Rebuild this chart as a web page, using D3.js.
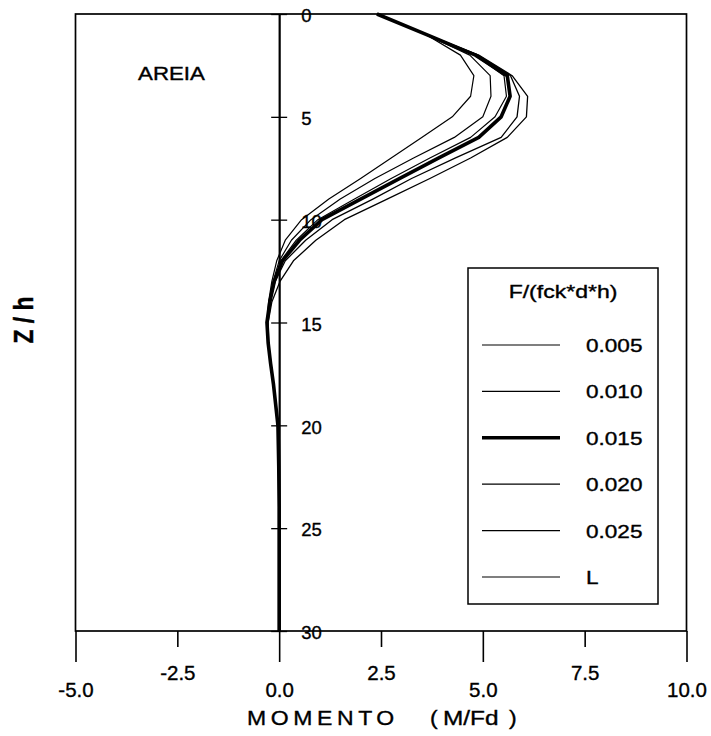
<!DOCTYPE html>
<html>
<head>
<meta charset="utf-8">
<script src="https://cdn.jsdelivr.net/npm/d3@7"></script>
<style>
  html, body { margin: 0; padding: 0; background: #fff; }
  svg { display: block; }
  text { font-family: "Liberation Sans", Arial, Helvetica, sans-serif; fill: #000; stroke: #000; stroke-width: 0.35px; }
</style>
</head>
<body>
<div id="chart"></div>
<script>
// ---------- data ----------
const zValues = [0,1,2,3,4,5,6,7,8,9,10,11,12,13,14,15,16,17,18,20,22,24,26,28,30];

const m005 = [2.4, 3.6, 4.45, 4.78, 4.7, 4.25, 3.5, 2.75, 2.0, 1.22, 0.55, 0.15, -0.06, -0.18, -0.26, -0.3, -0.27, -0.21, -0.14, -0.03, -0.01, 0, 0, 0, 0];
const m010 = [2.4, 3.6, 4.68, 5.18, 5.2, 5.0, 4.3, 3.3, 2.35, 1.5, 0.78, 0.3, 0.0, -0.15, -0.25, -0.3, -0.27, -0.21, -0.14, -0.03, -0.01, 0, 0, 0, 0];
const m015 = [2.4, 3.62, 4.82, 5.6, 5.67, 5.45, 4.9, 3.92, 2.95, 2.0, 1.05, 0.5, 0.08, -0.12, -0.23, -0.3, -0.27, -0.21, -0.14, -0.03, -0.01, 0, 0, 0, 0];
const m020 = [2.4, 3.62, 4.88, 5.68, 5.9, 5.84, 5.45, 4.33, 3.25, 2.3, 1.3, 0.65, 0.15, -0.1, -0.22, -0.29, -0.27, -0.21, -0.14, -0.03, -0.01, 0, 0, 0, 0];
const m025 = [2.4, 3.62, 4.9, 5.72, 6.1, 6.07, 5.6, 4.7, 3.7, 2.65, 1.6, 0.9, 0.35, 0.02, -0.18, -0.27, -0.26, -0.2, -0.14, -0.03, -0.01, 0, 0, 0, 0];
const mL   = [2.4, 3.62, 4.8, 5.52, 5.58, 5.3, 4.7, 3.7, 2.75, 1.85, 0.95, 0.42, 0.04, -0.14, -0.24, -0.3, -0.27, -0.21, -0.14, -0.03, -0.01, 0, 0, 0, 0];

const seriesNames = ["0.005", "0.010", "0.015", "0.020", "0.025", "L"];
const seriesValues = [m005, m010, m015, m020, m025, mL];

const xTickValues = [-5, -2.5, 0, 2.5, 5, 7.5, 10];
const xTickLabels = ["-5.0", "-2.5", "0.0", "2.5", "5.0", "7.5", "10.0"];
const yTickValues = [0, 5, 10, 15, 20, 25, 30];
const yTickLabels = ["0", "5", "10", "15", "20", "25", "30"];

const legendTitle = "F/(fck*d*h)";
const panelLabel = "AREIA";
const yTitle = "Z / h";

// ---------- layout ----------
const W = 711, H = 736;
const svg = d3.select("#chart").append("svg").attr("width", W).attr("height", H);

const x = d3.scaleLinear().domain([-5, 10]).range([75.5, 686.5]);
const y = d3.scaleLinear().domain([0, 30]).range([14, 631]);

function addText(parent, px, py, str, size, sx, anchor, weight) {
  return parent.append("text")
    .attr("transform", `translate(${px},${py}) scale(${sx},1)`)
    .attr("text-anchor", anchor || "start")
    .attr("font-size", size)
    .attr("font-weight", weight || "normal")
    .text(str);
}

// ---------- x axis (bottom) ----------
const xAxis = d3.axisBottom(x)
  .tickValues(xTickValues)
  .tickSizeInner(31)
  .tickSizeOuter(0)
  .tickFormat((d, i) => xTickLabels[i]);

const gx = svg.append("g").attr("transform", `translate(0,${y(30)})`).call(xAxis);
gx.select(".domain").remove();
gx.selectAll(".tick line").attr("stroke", "#000").attr("stroke-width", 1.6)
  .attr("y2", (d, i) => (i % 2 === 1 ? 16 : 31));
gx.selectAll(".tick text")
  .attr("font-size", 20.5)
  .attr("font-family", "'Liberation Sans', Arial, sans-serif")
  .attr("fill", "#000")
  .attr("dy", null)
  .attr("y", (d, i) => (i % 2 === 1 ? 49 : 66));

// ---------- y axis (vertical at M = 0) ----------
const yAxis = d3.axisRight(y)
  .tickValues(yTickValues)
  .tickSizeInner(8)
  .tickSizeOuter(0)
  .tickFormat((d, i) => yTickLabels[i]);

const gy = svg.append("g").attr("transform", `translate(${x(0)},0)`).call(yAxis);
gy.select(".domain").attr("stroke", "#000").attr("stroke-width", 2.2);
gy.selectAll(".tick line").attr("stroke", "#000").attr("stroke-width", 1.3)
  .attr("x1", -8).attr("x2", 8);
gy.selectAll(".tick text")
  .attr("font-size", 18.5)
  .attr("font-family", "'Liberation Sans', Arial, sans-serif")
  .attr("fill", "#000")
  .attr("x", 22)
  .attr("dy", "0.42em")
  .attr("text-anchor", "start");

// ---------- frame ----------
svg.append("rect")
  .attr("x", x(-5)).attr("y", y(0))
  .attr("width", x(10) - x(-5)).attr("height", y(30) - y(0))
  .attr("fill", "none").attr("stroke", "#000").attr("stroke-width", 1.7);

// ---------- curves ----------
const widths = [1.2, 1.2, 3.6, 1.3, 1.3, 1.2];
const line = d3.line()
  .x((d) => x(d[0]))
  .y((d) => y(d[1]));

seriesValues.forEach((vals, si) => {
  const pts = vals.map((v, i) => [v, zValues[i]]);
  svg.append("path")
    .datum(pts)
    .attr("fill", "none")
    .attr("stroke", "#000")
    .attr("stroke-width", widths[si])
    .attr("stroke-linejoin", "round")
    .attr("d", line);
});

// ---------- texts ----------
addText(svg, 138, 80, panelLabel, 18, 1.24, "start");

svg.append("text")
  .attr("transform", `translate(33,320) rotate(-90) scale(1,1.18)`)
  .attr("text-anchor", "middle")
  .attr("font-size", 23)
  .attr("font-weight", "bold")
  .text(yTitle);

// x title
addText(svg, 247, 725, "MOMENTO", 20, 1.15, "start").attr("letter-spacing", 4);
addText(svg, 430, 725, "(", 20, 1.15, "start");
addText(svg, 443, 725, "M/Fd", 20, 1.22, "start");
addText(svg, 509, 725, ")", 20, 1.15, "start");

// ---------- legend ----------
const lg = svg.append("g");
lg.append("rect")
  .attr("x", 468).attr("y", 268).attr("width", 190).attr("height", 336)
  .attr("fill", "#fff").attr("stroke", "#000").attr("stroke-width", 1.5);
addText(lg, 563, 298, legendTitle, 18, 1.28, "middle");

const legendY = d3.scalePoint().domain(seriesNames).range([345, 577]);
seriesNames.forEach((name, i) => {
  const yy = legendY(name);
  lg.append("line")
    .attr("x1", 482).attr("x2", 560).attr("y1", yy).attr("y2", yy)
    .attr("stroke", "#000").attr("stroke-width", widths[i]);
  addText(lg, 586, yy + 7, name, 18.5, 1.22, "start");
});
</script>
</body>
</html>
